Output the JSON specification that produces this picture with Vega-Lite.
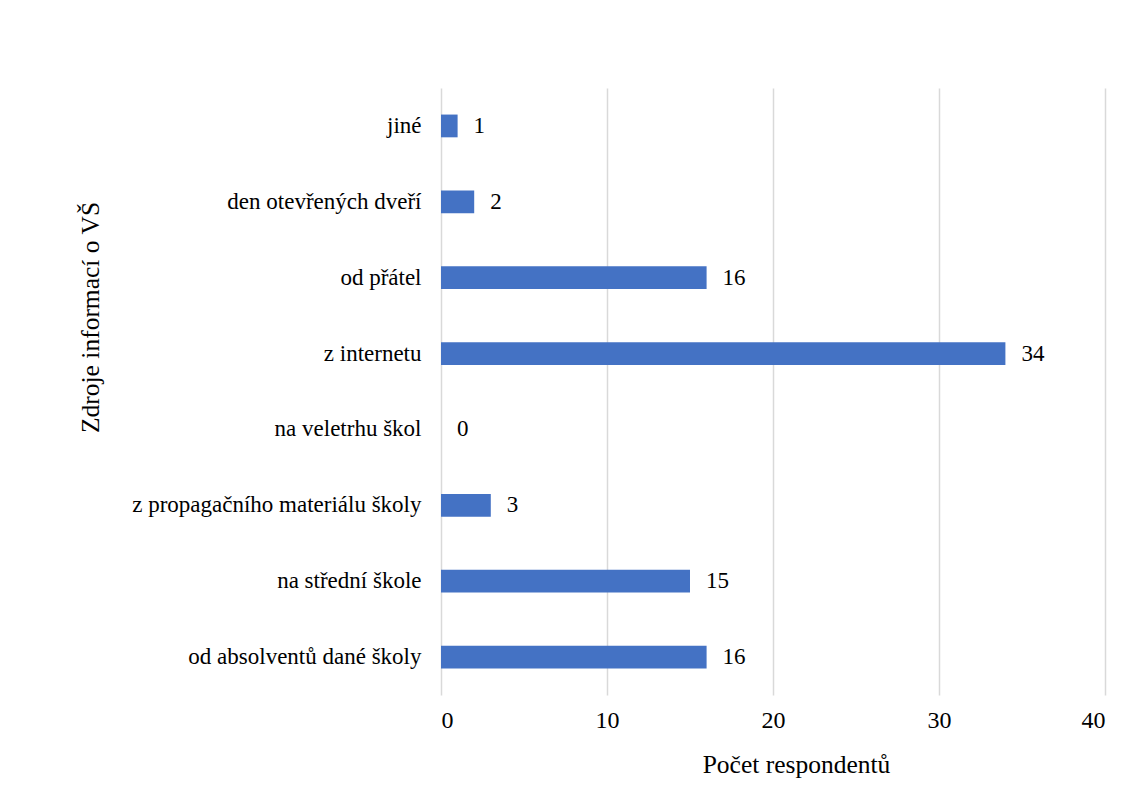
{
  "$schema": "https://vega.github.io/schema/vega-lite/v6.json",
  "autosize": "none",
  "width": 664,
  "height": 607,
  "padding": {"left": 441, "top": 88, "right": 28, "bottom": 109},
  "background": "white",
  "config": {
    "view": {"stroke": null},
    "font": "'Liberation Serif', 'Times New Roman', serif",
    "text": {"font": "'Liberation Serif', 'Times New Roman', serif"},
    "axis": {
      "labelFont": "'Liberation Serif', 'Times New Roman', serif",
      "titleFont": "'Liberation Serif', 'Times New Roman', serif",
      "labelColor": "#000000",
      "titleColor": "#000000",
      "titleFontWeight": "normal"
    }
  },
  "data": {
    "values": [
      {"zdroj": "jiné", "pocet": 1},
      {"zdroj": "den otevřených dveří", "pocet": 2},
      {"zdroj": "od přátel", "pocet": 16},
      {"zdroj": "z internetu", "pocet": 34},
      {"zdroj": "na veletrhu škol", "pocet": 0},
      {"zdroj": "z propagačního materiálu školy", "pocet": 3},
      {"zdroj": "na střední škole", "pocet": 15},
      {"zdroj": "od absolventů dané školy", "pocet": 16}
    ]
  },
  "encoding": {
    "y": {
      "field": "zdroj",
      "type": "nominal",
      "sort": null,
      "scale": {"paddingInner": 0.7, "paddingOuter": 0.35},
      "axis": {
        "title": "Zdroje informací o VŠ",
        "titleFontSize": 25.5,
        "titleAngle": 270,
        "titleAlign": "center",
        "titleBaseline": "alphabetic",
        "titleX": -343,
        "titleY": 229,
        "labelFontSize": 23,
        "labelPadding": 20,
        "labelLimit": 400,
        "ticks": false,
        "domain": false,
        "grid": false
      }
    },
    "x": {
      "field": "pocet",
      "type": "quantitative",
      "scale": {"domain": [0, 40], "nice": false},
      "axis": {
        "title": "Počet respondentů",
        "titleFontSize": 25.5,
        "titleAlign": "center",
        "titleBaseline": "alphabetic",
        "titleX": 355,
        "titleY": 77,
        "values": [0, 10, 20, 30, 40],
        "labelFontSize": 24,
        "labelPadding": 13,
        "ticks": false,
        "domain": false,
        "grid": true,
        "gridColor": "#D9D9D9",
        "gridWidth": 1.5
      }
    }
  },
  "layer": [
    {"mark": {"type": "bar", "color": "#4472C4"}},
    {
      "mark": {
        "type": "text",
        "align": "left",
        "baseline": "middle",
        "dx": 16,
        "fontSize": 23,
        "color": "#000000"
      },
      "encoding": {"text": {"field": "pocet", "type": "quantitative"}}
    }
  ]
}
